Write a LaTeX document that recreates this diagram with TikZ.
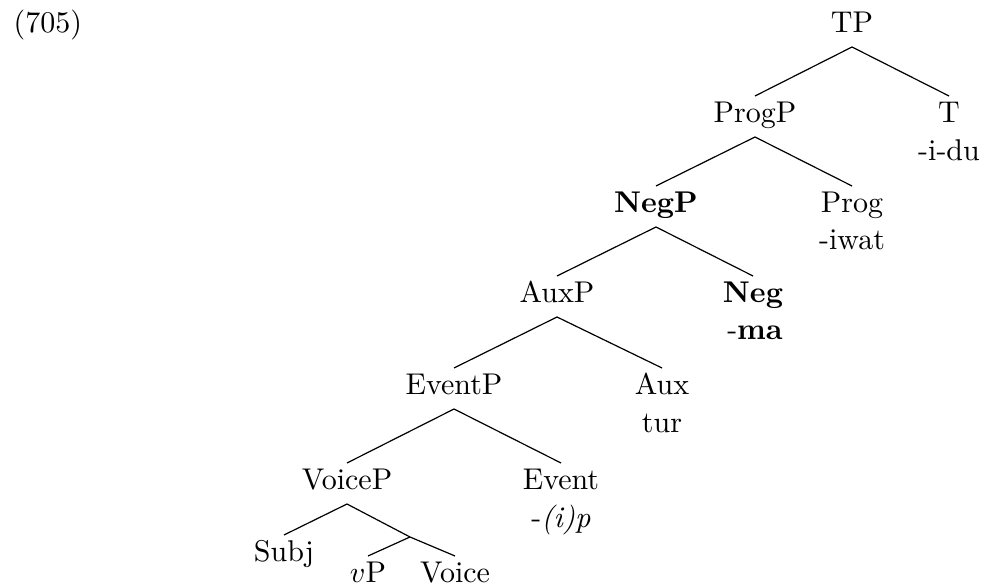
\documentclass[tikz,border=0pt]{standalone}
\begin{document}
\begin{tikzpicture}[x=0.33333pt,y=-0.33333pt,
  lab/.style={inner sep=0pt,outer sep=0pt,text height=9pt,text depth=4.67pt,anchor=base},
  morph/.style={inner sep=0pt,anchor=base},
  edge/.style={draw=black,line width=0.4pt}]
\useasboundingbox (0,0) rectangle (984,588);
\node[morph,anchor=base west] (ex) at (13,33) {(705)};
% nodes
\node[lab] (TP) at (852,33) {TP};
\node[lab] (ProgP) at (755,123) {ProgP};
\node[lab] (T) at (949,123) {T};
\node[morph] (Tm) at (949,161) {-i-du};
\node[lab] (NegP) at (656,213) {\textbf{NegP}};
\node[lab] (Prog) at (852,213) {Prog};
\node[morph] (Progm) at (852,250) {-iwat};
\node[lab] (AuxP) at (557,303) {AuxP};
\node[lab] (Neg) at (753,303) {\textbf{Neg}};
\node[morph] (Negm) at (755,340) {-\textbf{ma}};
\node[lab] (EventP) at (454,395) {EventP};
\node[lab] (Aux) at (662,395) {Aux};
\node[morph] (Auxm) at (662,433) {tur};
\node[lab] (VoiceP) at (347,490) {VoiceP};
\node[lab] (Event) at (561,490) {Event};
\node[morph] (Eventm) at (561,528) {-\textit{(i)p}};
\node[lab] (Subj) at (284,562) {Subj};
\node[lab] (vP) at (368,583) {$v$P};
\node[lab] (Voice) at (455,583) {Voice};
\coordinate (vbar) at (410,537);
% edges
\draw[edge] (TP.south) -- (ProgP.north);
\draw[edge] (TP.south) -- (T.north);
\draw[edge] (ProgP.south) -- (NegP.north);
\draw[edge] (ProgP.south) -- (Prog.north);
\draw[edge] (NegP.south) -- (AuxP.north);
\draw[edge] (NegP.south) -- (Neg.north);
\draw[edge] (AuxP.south) -- (EventP.north);
\draw[edge] (AuxP.south) -- (Aux.north);
\draw[edge] (EventP.south) -- (VoiceP.north);
\draw[edge] (EventP.south) -- (Event.north);
\draw[edge] (VoiceP.south) -- (Subj.north);
\draw[edge] (VoiceP.south) -- (vbar) -- (Voice.north);
\draw[edge] (vbar) -- (vP.north);
\end{tikzpicture}
\end{document}
